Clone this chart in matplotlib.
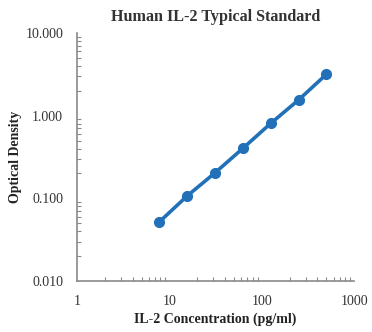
import matplotlib
matplotlib.use("Agg")
import matplotlib.pyplot as plt
from matplotlib.ticker import LogLocator, FixedLocator, FuncFormatter, NullFormatter

# IL-2 standard curve
concentration = [7.8, 15.6, 31.25, 62.5, 125, 250, 500]   # pg/ml
optical_density = [0.052, 0.107, 0.204, 0.403, 0.807, 1.55, 3.16]

x_ticks = [1, 10, 100, 1000]
y_ticks = [0.01, 0.1, 1, 10]

plt.rcParams['font.family'] = ['Liberation Serif', 'DejaVu Serif']

fig = plt.figure(figsize=(3.72, 3.32), dpi=100)
ax = fig.add_axes([0.207, 0.1536, 0.745, 0.747])

ax.plot(concentration, optical_density, color='#2170b8', lw=2.6,
        marker='o', ms=7, mec='#2170b8', mfc='#2170b8', zorder=3)

ax.set_xscale('log')
ax.set_yscale('log')
ax.set_xlim(1, 1000)
ax.set_ylim(0.01, 10)

ax.xaxis.set_major_locator(FixedLocator(x_ticks))
ax.yaxis.set_major_locator(FixedLocator(y_ticks))
ax.xaxis.set_major_formatter(FuncFormatter(lambda v, p: f"{v:g}"))
ax.yaxis.set_major_formatter(FuncFormatter(lambda v, p: f"{v:.3f}"))
ax.xaxis.set_minor_locator(LogLocator(base=10, subs=range(2, 10)))
ax.yaxis.set_minor_locator(LogLocator(base=10, subs=range(2, 10)))
ax.xaxis.set_minor_formatter(NullFormatter())
ax.yaxis.set_minor_formatter(NullFormatter())

for s in ['top', 'right']:
    ax.spines[s].set_visible(False)
for s in ['left', 'bottom']:
    ax.spines[s].set_color('#8a8a8a')
    ax.spines[s].set_linewidth(1.2)

ax.tick_params(which='major', direction='in', length=0, labelsize=10,
               colors='#8a8a8a', labelcolor='#333333', pad=10)
ax.tick_params(which='minor', direction='in', length=3, width=0.8,
               colors='#8a8a8a')

ax.set_title('Human IL-2 Typical Standard', fontsize=11.6, fontweight='bold',
             color='#333333', pad=9)
ax.set_xlabel('IL-2 Concentration (pg/ml)', fontsize=10, fontweight='bold',
              color='#222222', labelpad=3)
ax.set_ylabel('Optical Density', fontsize=10, fontweight='bold',
              color='#222222', labelpad=2)

fig.savefig('out.png', dpi=100)
